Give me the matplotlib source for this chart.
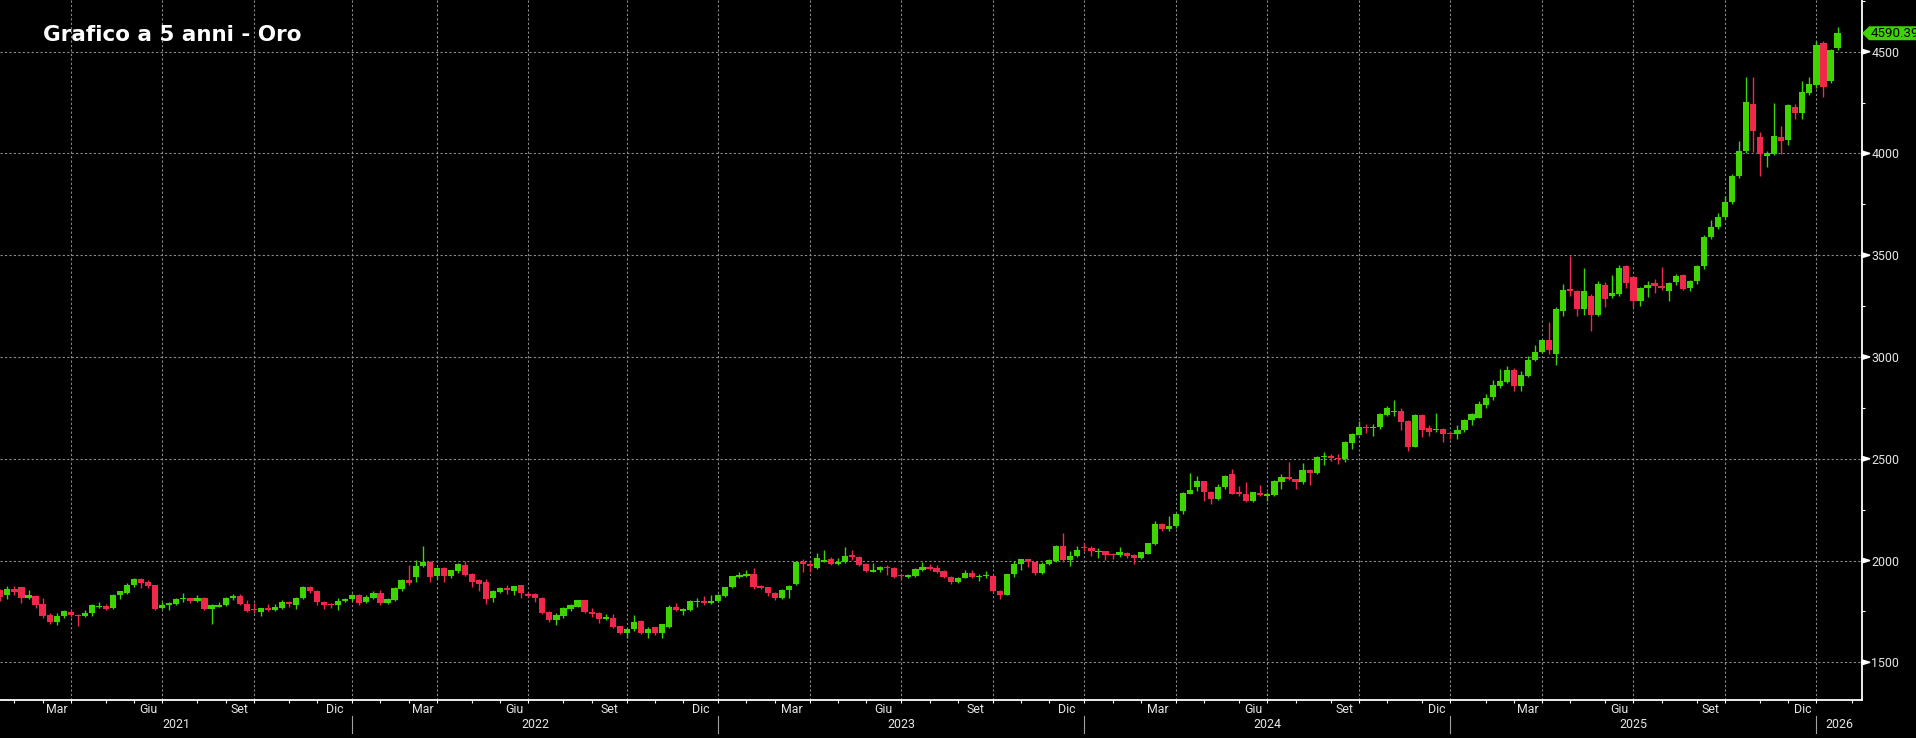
#Grafico a 5 anni dell'oro, candele settimanali

import numpy as np
import pandas as pd
import matplotlib
matplotlib.use("Agg")
import matplotlib.pyplot as plt
from matplotlib.patches import Polygon

#Settimane come appaiono sull'asse del grafico (una candela per settimana)
settimane = pd.date_range("2021-01-22", periods=262, freq="W-FRI")

#Prezzi settimanali (apertura, massimo, minimo, chiusura)
apertura = [1856, 1829, 1859, 1869, 1816, 1828, 1785, 1733, 1700, 1727,
            1748, 1732, 1727, 1742, 1773, 1778, 1767, 1829, 1843, 1881,
            1909, 1894, 1879, 1765, 1780, 1786, 1810, 1815, 1801, 1818,
            1763, 1773, 1781, 1816, 1828, 1788, 1762, 1748, 1765, 1757,
            1765, 1795, 1780, 1818, 1869, 1851, 1795, 1788, 1780, 1801,
            1810, 1833, 1796, 1818, 1839, 1790, 1806, 1859, 1906, 1919,
            1975, 1995, 1925, 1962, 1925, 1950, 1978, 1935, 1904, 1893,
            1815, 1847, 1863, 1850, 1880, 1837, 1838, 1817, 1746, 1708,
            1728, 1764, 1774, 1805, 1748, 1741, 1714, 1720, 1677, 1642,
            1662, 1703, 1642, 1672, 1642, 1673, 1772, 1752, 1757, 1794,
            1802, 1790, 1800, 1827, 1870, 1921, 1926, 1934, 1873, 1868,
            1843, 1814, 1856, 1884, 1992, 1982, 1965, 1995, 2008, 1985,
            1992, 2025, 2017, 1983, 1945, 1952, 1969, 1962, 1929, 1919,
            1926, 1955, 1969, 1964, 1950, 1919, 1893, 1914, 1940, 1919,
            1924, 1925, 1848, 1833, 1932, 1981, 2006, 1992, 1940, 1981,
            2000, 2072, 2005, 2021, 2068, 2062, 2042, 2046, 2033, 2026,
            2038, 2029, 2013, 2034, 2083, 2181, 2155, 2168, 2242, 2328,
            2359, 2389, 2335, 2302, 2361, 2425, 2335, 2328, 2291, 2332,
            2315, 2324, 2384, 2410, 2400, 2384, 2446, 2430, 2508, 2515,
            2505, 2498, 2577, 2618, 2658, 2650, 2655, 2716, 2729, 2736,
            2686, 2560, 2714, 2652, 2639, 2648, 2622, 2621, 2640, 2692,
            2701, 2766, 2802, 2856, 2877, 2938, 2856, 2908, 2984, 3023,
            3085, 3016, 3224, 3334, 3325, 3237, 3301, 3208, 3355, 3301,
            3311, 3445, 3391, 3273, 3339, 3363, 3350, 3322, 3366, 3402,
            3339, 3371, 3445, 3589, 3641, 3687, 3760, 3890, 4014, 4243,
            4083, 3985, 3998, 4080, 4066, 4227, 4197, 4295, 4336, 4541,
            4358, 4516]
massimo = [1860, 1876, 1875, 1870, 1855, 1830, 1815, 1740, 1740, 1755,
           1755, 1737, 1758, 1785, 1796, 1785, 1836, 1852, 1890, 1913,
           1916, 1903, 1880, 1795, 1795, 1818, 1839, 1817, 1832, 1820,
           1785, 1795, 1820, 1834, 1834, 1808, 1793, 1767, 1785, 1785,
           1806, 1800, 1820, 1875, 1877, 1853, 1800, 1793, 1815, 1816,
           1835, 1836, 1830, 1848, 1853, 1815, 1868, 1910, 1978, 2002,
           2071, 2000, 1966, 1966, 1955, 1988, 2000, 1938, 1910, 1910,
           1855, 1870, 1880, 1875, 1882, 1845, 1841, 1820, 1752, 1740,
           1772, 1788, 1808, 1808, 1769, 1745, 1735, 1736, 1680, 1670,
           1731, 1708, 1672, 1675, 1690, 1780, 1789, 1765, 1806, 1815,
           1827, 1830, 1834, 1872, 1925, 1942, 1952, 1962, 1880, 1872,
           1846, 1860, 1878, 1997, 2008, 1995, 2038, 2051, 2015, 2012,
           2066, 2050, 2022, 1986, 1988, 1972, 1979, 1968, 1935, 1935,
           1962, 1992, 1985, 1979, 1955, 1925, 1920, 1953, 1953, 1933,
           1947, 1926, 1853, 1933, 1997, 2009, 2010, 1994, 1993, 2008,
           2075, 2135, 2047, 2070, 2088, 2070, 2062, 2049, 2037, 2065,
           2044, 2031, 2044, 2088, 2195, 2185, 2217, 2236, 2336, 2430,
           2417, 2393, 2340, 2378, 2422, 2450, 2364, 2384, 2339, 2369,
           2336, 2394, 2424, 2482, 2403, 2477, 2450, 2512, 2531, 2525,
           2523, 2586, 2625, 2688, 2672, 2672, 2725, 2758, 2789, 2750,
           2690, 2721, 2722, 2666, 2724, 2652, 2638, 2665, 2697, 2726,
           2786, 2817, 2889, 2942, 2955, 2945, 2930, 3005, 3060, 3090,
           3170, 3245, 3360, 3497, 3330, 3437, 3310, 3371, 3366, 3404,
           3451, 3452, 3400, 3345, 3375, 3383, 3440, 3370, 3408, 3410,
           3378, 3453, 3600, 3675, 3707, 3790, 3897, 4060, 4377, 4377,
           4107, 4012, 4246, 4135, 4245, 4245, 4357, 4374, 4554, 4551,
           4515, 4619]
minimo = [1803, 1810, 1832, 1793, 1810, 1768, 1717, 1687, 1682, 1716,
          1724, 1680, 1722, 1730, 1768, 1756, 1760, 1813, 1838, 1870,
          1863, 1866, 1755, 1761, 1757, 1780, 1798, 1790, 1794, 1755,
          1690, 1770, 1776, 1808, 1782, 1745, 1743, 1727, 1750, 1752,
          1760, 1770, 1763, 1810, 1842, 1780, 1763, 1765, 1757, 1795,
          1802, 1783, 1790, 1812, 1780, 1788, 1800, 1850, 1878, 1896,
          1967, 1895, 1910, 1896, 1915, 1940, 1925, 1872, 1850, 1785,
          1794, 1840, 1835, 1830, 1814, 1820, 1794, 1738, 1698, 1685,
          1720, 1754, 1770, 1743, 1725, 1695, 1710, 1668, 1638, 1620,
          1655, 1638, 1620, 1636, 1620, 1670, 1750, 1733, 1750, 1774,
          1780, 1785, 1795, 1823, 1865, 1915, 1920, 1860, 1858, 1827,
          1804, 1810, 1817, 1880, 1942, 1945, 1960, 1992, 1980, 1980,
          1988, 2005, 1975, 1945, 1942, 1945, 1929, 1915, 1906, 1912,
          1920, 1950, 1952, 1938, 1912, 1885, 1890, 1913, 1915, 1901,
          1913, 1846, 1810, 1830, 1920, 1953, 1970, 1931, 1932, 1976,
          1993, 1993, 1973, 2016, 2047, 2024, 2013, 2002, 2010, 2016,
          2014, 1984, 2010, 2030, 2078, 2146, 2146, 2160, 2230, 2325,
          2340, 2291, 2277, 2298, 2353, 2325, 2315, 2287, 2286, 2316,
          2293, 2318, 2353, 2394, 2353, 2376, 2373, 2425, 2470, 2491,
          2472, 2485, 2547, 2615, 2625, 2613, 2645, 2708, 2710, 2643,
          2537, 2557, 2605, 2613, 2631, 2583, 2597, 2596, 2633, 2665,
          2700, 2750, 2790, 2850, 2870, 2832, 2832, 2900, 2980, 3018,
          3016, 2959, 3200, 3300, 3200, 3207, 3126, 3200, 3245, 3290,
          3300, 3340, 3248, 3250, 3293, 3314, 3328, 3273, 3355, 3328,
          3325, 3360, 3430, 3580, 3630, 3680, 3750, 3880, 4000, 4009,
          3891, 3932, 3990, 3998, 4042, 4170, 4170, 4285, 4320, 4279,
          4348, 4510]
chiusura = [1823, 1859, 1846, 1816, 1829, 1780, 1730, 1697, 1730, 1750,
            1732, 1728, 1743, 1780, 1778, 1763, 1833, 1849, 1882, 1909,
            1889, 1876, 1760, 1783, 1793, 1810, 1815, 1801, 1818, 1760,
            1783, 1783, 1818, 1828, 1786, 1750, 1755, 1765, 1758, 1770,
            1795, 1785, 1818, 1871, 1848, 1798, 1781, 1781, 1803, 1813,
            1833, 1793, 1820, 1839, 1790, 1810, 1866, 1906, 1892, 1975,
            1995, 1921, 1962, 1925, 1954, 1983, 1930, 1896, 1884, 1810,
            1850, 1863, 1855, 1873, 1840, 1827, 1814, 1743, 1708, 1733,
            1769, 1781, 1805, 1747, 1739, 1711, 1724, 1673, 1642, 1662,
            1698, 1642, 1662, 1642, 1686, 1774, 1756, 1761, 1802, 1802,
            1790, 1800, 1830, 1870, 1922, 1929, 1934, 1868, 1865, 1840,
            1814, 1856, 1873, 1992, 1982, 1972, 2013, 2002, 1985, 1995,
            2021, 2015, 1980, 1950, 1955, 1969, 1962, 1919, 1922, 1929,
            1959, 1969, 1959, 1942, 1917, 1893, 1916, 1940, 1919, 1924,
            1925, 1848, 1833, 1932, 1981, 2006, 1992, 1940, 1981, 2002,
            2072, 2005, 2021, 2054, 2062, 2046, 2049, 2029, 2025, 2044,
            2021, 2013, 2041, 2087, 2181, 2155, 2168, 2230, 2332, 2345,
            2389, 2335, 2302, 2361, 2417, 2328, 2325, 2291, 2335, 2322,
            2328, 2389, 2410, 2400, 2384, 2443, 2430, 2508, 2515, 2502,
            2498, 2580, 2621, 2655, 2652, 2658, 2721, 2748, 2734, 2683,
            2560, 2714, 2642, 2631, 2645, 2622, 2621, 2640, 2692, 2718,
            2771, 2799, 2861, 2881, 2938, 2856, 2913, 2987, 3026, 3085,
            3036, 3237, 3330, 3322, 3237, 3325, 3204, 3360, 3286, 3314,
            3435, 3363, 3273, 3340, 3355, 3350, 3339, 3363, 3399, 3335,
            3371, 3448, 3589, 3641, 3687, 3760, 3890, 4014, 4253, 4112,
            3998, 4001, 4086, 4063, 4238, 4197, 4300, 4341, 4533, 4328,
            4508, 4590.39]

#Etichette dell'asse
mesi_etichette = {3: "Mar", 6: "Giu", 9: "Set", 12: "Dic"}
titolo = "Grafico a 5 anni - Oro"

verde = "#3dd400"
rosso = "#f0284b"
testo = "#e6e6e6"
griglia = "#8a8a8a"

W, H = 1916, 738
fig = plt.figure(figsize=(W / 100, H / 100), dpi=100, facecolor="black")
ax = fig.add_axes([0, 38 / H, 1861.7 / W, 700 / H])
ax.set_facecolor("black")

o = np.array(apertura, dtype=float)
c = np.array(chiusura, dtype=float)
x = np.arange(len(c))
colori = [verde if cc >= oo else rosso for oo, cc in zip(o, c)]

#Candele: stoppini e corpi
ax.vlines(x, minimo, massimo, colors=colori, lw=1.0, zorder=3)
corpo = np.maximum(np.abs(c - o), 5)
ax.bar(x, corpo, bottom=np.minimum(o, c), width=0.88, color=colori, lw=0, zorder=4)

xmax = 264.43
ax.set_xlim(-0.05, xmax)
ax.set_ylim(1314.9, 4753.8)

#Calendario dell'asse (prosegue oltre l'ultima candela)
asse = pd.date_range(settimane[0], periods=266, freq="W-FRI")
inizio_mese = [i for i in range(1, len(asse))
               if asse[i].month != asse[i - 1].month and i <= xmax]

for s in ["left", "top"]:
    ax.spines[s].set_visible(False)
for s in ["right", "bottom"]:
    ax.spines[s].set_color("white")
    ax.spines[s].set_linewidth(1.3)

#Asse y a destra
ax.yaxis.tick_right()
ax.set_yticks(range(1500, 4501, 500))
ax.set_yticks(np.arange(1750, 4751, 500), minor=True)
ax.tick_params(axis="y", which="major", length=0, pad=6.9, labelsize=8.9,
               labelcolor=testo, labelfontfamily="Roboto")
ax.tick_params(axis="y", which="minor", length=2.5, width=0.8, color="white")

#Asse x: tacche a inizio mese
ax.set_xticks(inizio_mese)
ax.set_xticklabels([])
ax.tick_params(axis="x", length=2.4, width=0.8, color="white", direction="out")

#Griglia
ax.grid(axis="y", color=griglia, linestyle=(0, (2, 2)), lw=0.8, zorder=0)
for i in inizio_mese:
    if asse[i].month in (1, 4, 7, 10):
        ax.axvline(i, color=griglia, linestyle=(0, (2, 2)), lw=0.8, zorder=0)

trans = ax.get_xaxis_transform()
for k in range(len(inizio_mese) - 1):
    m = asse[inizio_mese[k]].month
    if m in mesi_etichette:
        centro = (inizio_mese[k] + inizio_mese[k + 1]) / 2
        ax.text(centro, -9.3 / 700, mesi_etichette[m], transform=trans,
                ha="center", va="center", fontsize=8.9, color=testo,
                family="Roboto")

#Anni e separatori
inizio_anno = [i for i in inizio_mese if asse[i].month == 1]
bordi = [-0.05] + inizio_anno + [xmax]
for k in range(len(bordi) - 1):
    anno = asse[max(int(np.ceil(bordi[k])), 0)].year
    ax.text((bordi[k] + bordi[k + 1]) / 2, -25 / 700, str(anno), transform=trans,
            ha="center", va="center", fontsize=8.9, color=testo, family="Roboto")
for i in inizio_anno:
    ax.plot([i, i], [-16 / 700, -33 / 700], transform=trans, clip_on=False,
            color="#a0a0a0", lw=0.8)

#Triangoli sulle tacche principali
for v in range(1500, 4501, 500):
    yp = ax.transData.transform((0, v))[1]
    tri = [(1862 / W, (yp + 2.4) / H), (1862 / W, (yp - 2.4) / H), (1870 / W, yp / H)]
    fig.patches.append(Polygon(tri, closed=True, color="white",
                               transform=fig.transFigure, figure=fig))

#Etichetta dell'ultimo prezzo
yp = ax.transData.transform((0, chiusura[-1]))[1]
box = [(1863 / W, yp / H), (1869.5 / W, (yp + 6.3) / H), (W / W, (yp + 6.3) / H),
       (W / W, (yp - 6.3) / H), (1869.5 / W, (yp - 6.3) / H)]
fig.patches.append(Polygon(box, closed=True, color=verde,
                           transform=fig.transFigure, figure=fig))
fig.text(1870.5 / W, yp / H, f"{chiusura[-1]:.2f}", ha="left", va="center",
         fontsize=9.6, color="black", family="Roboto")

#Titolo
fig.text(43 / W, 1 - 35 / H, titolo, ha="left", va="center", fontsize=15.5,
         fontweight="bold", color="white", family="DejaVu Sans")

fig.savefig("out.png", dpi=100, facecolor="black")
